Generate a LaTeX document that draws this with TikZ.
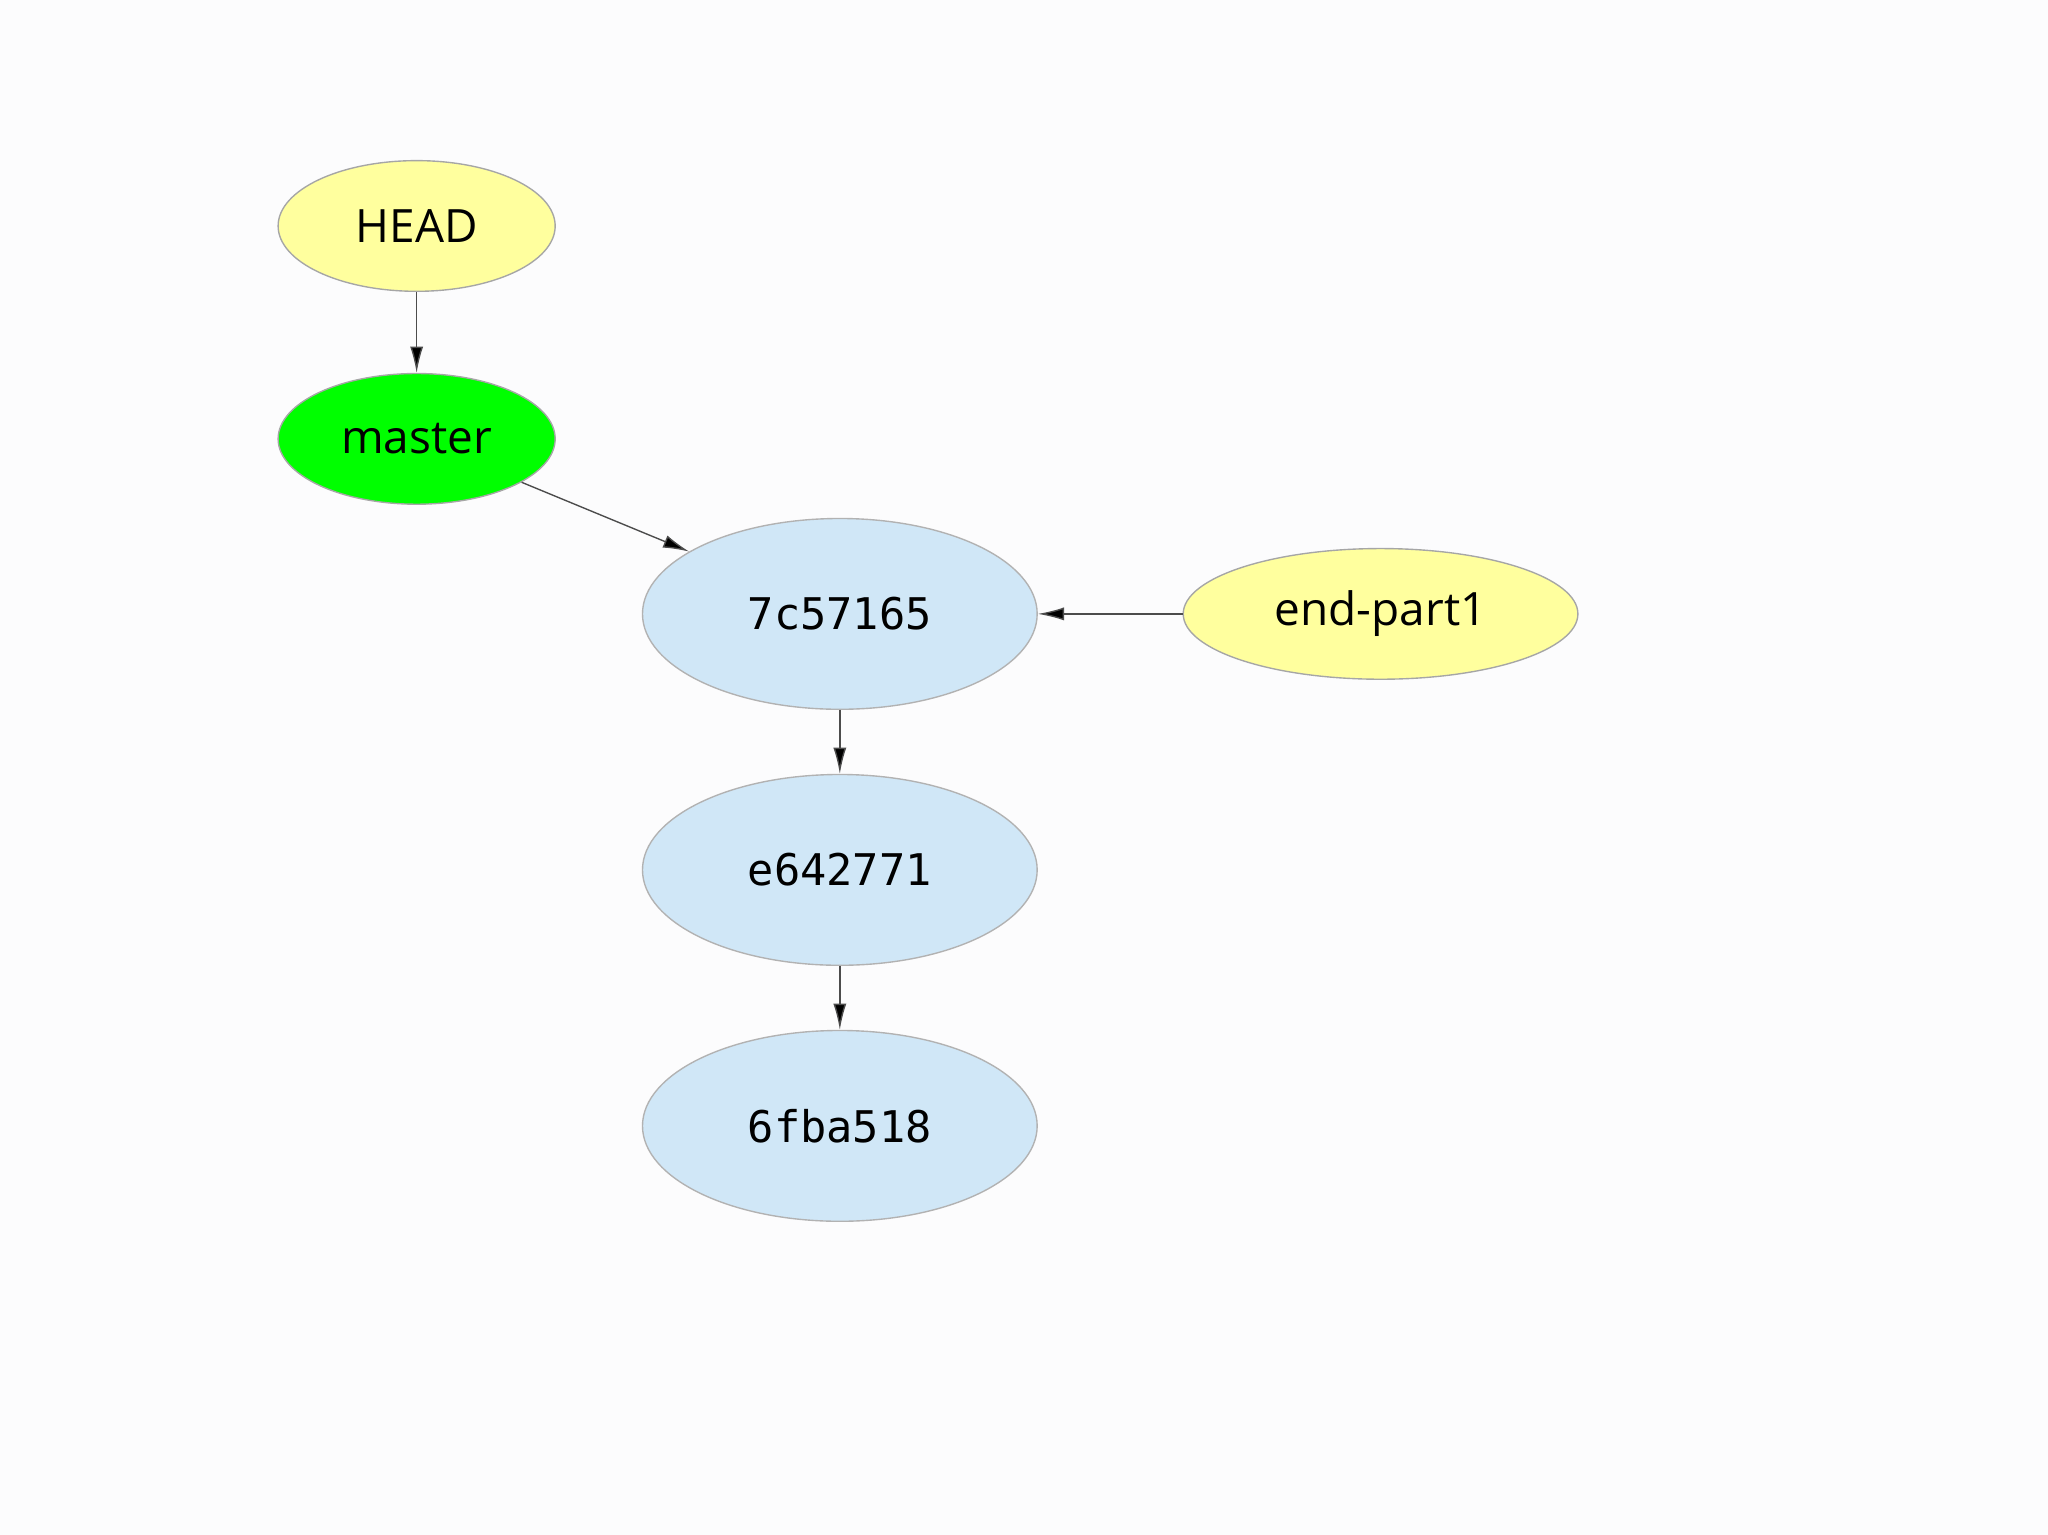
\documentclass[tikz,border=0pt]{standalone}
\usepackage{fontspec}
\setmainfont{Open Sans}
\newfontfamily\hashfont{DejaVu Sans Mono}
\usetikzlibrary{shapes.geometric,arrows.meta}
\definecolor{bg}{HTML}{FCFCFD}
\definecolor{refyel}{HTML}{FFFF9E}
\definecolor{refgrn}{HTML}{00FF00}
\definecolor{commit}{HTML}{D0E7F7}
\begin{document}
\begin{tikzpicture}[x=0.01cm,y=-0.01cm,
  refnode/.style={ellipse,draw=gray!70,line width=0.3pt,minimum width=212\pgflinewidth*0+2.12cm,minimum height=1cm,inner sep=0pt,font=\fontsize{10}{12}\selectfont},
  commitnode/.style={ellipse,draw=gray!60,line width=0.3pt,fill=commit,minimum width=3.02cm,minimum height=1.46cm,inner sep=0pt,font=\hashfont\fontsize{9.5}{12}\selectfont},
  conn/.style={draw=black!70,line width=0.3pt,-{Latex[length=0.2cm,width=0.1cm,fill=black]}}]
\fill[bg] (0,0) rectangle (1568,1175);
\useasboundingbox (0,0) rectangle (1568,1175);
\node[refnode,fill=refyel] (head) at (319,173) {HEAD};
\node[refnode,fill=refgrn] (master) at (319,336) {master};
\node[commitnode] (c1) at (643,470) {7c57165};
\node[refnode,fill=refyel,minimum width=3.02cm] (ep) at (1057,470) {end-part1};
\node[commitnode] (c2) at (643,666) {e642771};
\node[commitnode] (c3) at (643,862) {6fba518};
\draw[conn] (head) -- (master);
\draw[conn] (master) -- (c1);
\draw[conn] (ep) -- (c1);
\draw[conn] (c1) -- (c2);
\draw[conn] (c2) -- (c3);
\end{tikzpicture}
\end{document}
